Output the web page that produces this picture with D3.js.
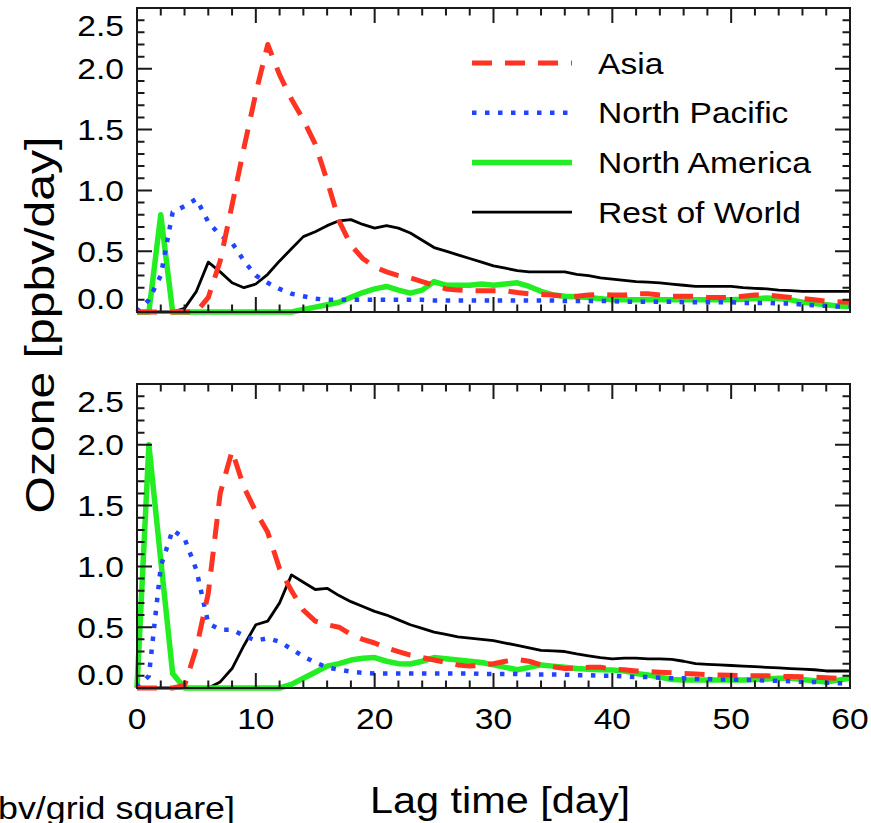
<!DOCTYPE html>
<html>
<head>
<meta charset="utf-8">
<script src="https://cdn.jsdelivr.net/npm/d3@7"></script>
<style>
  body { margin: 0; background: #fff; }
  text { font-family: "Liberation Sans", Arial, Helvetica, sans-serif; fill: #000; }
</style>
</head>
<body>
<svg id="chart"></svg>
<script>
// lag time in days, one value per day
const days = d3.range(0, 61);
const seriesNames = ["Asia", "North Pacific", "North America", "Rest of World"];
const yTickValues = [0, 0.5, 1.0, 1.5, 2.0, 2.5];
const xTickValues = [0, 10, 20, 30, 40, 50, 60];

// upper panel
const asiaTop = [0, 0, 0, 0, 0, 0, 0.12, 0.42, 0.88, 1.35, 1.8, 2.2, 1.95, 1.75, 1.58, 1.38, 1.08, 0.75, 0.55, 0.44,
  0.37, 0.33, 0.3, 0.28, 0.25, 0.22, 0.19, 0.18, 0.175, 0.175, 0.175, 0.175, 0.16, 0.15, 0.145, 0.14, 0.13, 0.13, 0.14, 0.145,
  0.14, 0.14, 0.15, 0.15, 0.14, 0.13, 0.13, 0.13, 0.12, 0.12, 0.12, 0.13, 0.14, 0.14, 0.13, 0.12, 0.11, 0.1, 0.09, 0.085, 0.08];
const pacificTop = [0, 0.1, 0.3, 0.82, 0.87, 0.93, 0.74, 0.63, 0.57, 0.42, 0.3, 0.24, 0.19, 0.15, 0.13, 0.11, 0.1, 0.1, 0.1, 0.1,
  0.1, 0.1, 0.1, 0.1, 0.1, 0.095, 0.095, 0.095, 0.095, 0.095, 0.095, 0.095, 0.095, 0.095, 0.095, 0.095, 0.09, 0.09, 0.09, 0.09,
  0.09, 0.085, 0.085, 0.085, 0.085, 0.085, 0.08, 0.08, 0.08, 0.08, 0.08, 0.075, 0.075, 0.075, 0.07, 0.07, 0.06, 0.055, 0.05, 0.045, 0.045];
const americaTop = [0, 0, 0.8, 0, 0, 0, 0, 0, 0, 0, 0, 0, 0, 0, 0.02, 0.04, 0.06, 0.08, 0.12, 0.16,
  0.19, 0.21, 0.18, 0.155, 0.18, 0.25, 0.22, 0.22, 0.22, 0.23, 0.22, 0.23, 0.24, 0.21, 0.17, 0.14, 0.13, 0.125, 0.12, 0.11,
  0.1, 0.1, 0.1, 0.1, 0.1, 0.1, 0.1, 0.1, 0.1, 0.1, 0.1, 0.105, 0.11, 0.115, 0.11, 0.1, 0.08, 0.07, 0.06, 0.05, 0.045];
const worldTop = [0, 0, 0, 0, 0.03, 0.17, 0.41, 0.33, 0.24, 0.2, 0.23, 0.31, 0.42, 0.52, 0.62, 0.66, 0.71, 0.75, 0.76, 0.72,
  0.69, 0.71, 0.69, 0.65, 0.59, 0.53, 0.5, 0.47, 0.44, 0.41, 0.38, 0.36, 0.34, 0.33, 0.33, 0.33, 0.33, 0.31, 0.3, 0.28,
  0.27, 0.26, 0.25, 0.245, 0.24, 0.23, 0.22, 0.21, 0.21, 0.21, 0.21, 0.2, 0.195, 0.19, 0.18, 0.175, 0.17, 0.17, 0.17, 0.17, 0.17];

// lower panel
const asiaBottom = [0, 0, 0, 0, 0.02, 0.33, 0.78, 1.6, 1.95, 1.65, 1.45, 1.28, 0.98, 0.8, 0.64, 0.55, 0.52, 0.5, 0.44, 0.4,
  0.37, 0.33, 0.3, 0.27, 0.25, 0.23, 0.21, 0.19, 0.18, 0.185, 0.2, 0.22, 0.235, 0.22, 0.19, 0.175, 0.16, 0.165, 0.17, 0.17,
  0.155, 0.15, 0.14, 0.135, 0.13, 0.125, 0.12, 0.115, 0.11, 0.107, 0.105, 0.1, 0.1, 0.1, 0.095, 0.095, 0.093, 0.09, 0.085, 0.08, 0.08];
const pacificBottom = [0, 0.1, 1.0, 1.3, 1.23, 0.97, 0.53, 0.48, 0.48, 0.43, 0.39, 0.41, 0.38, 0.32, 0.26, 0.21, 0.17, 0.15, 0.135, 0.125,
  0.12, 0.12, 0.12, 0.12, 0.12, 0.12, 0.12, 0.12, 0.12, 0.115, 0.115, 0.115, 0.115, 0.11, 0.11, 0.11, 0.11, 0.105, 0.105, 0.1,
  0.1, 0.095, 0.09, 0.09, 0.085, 0.08, 0.08, 0.075, 0.075, 0.07, 0.07, 0.065, 0.065, 0.06, 0.06, 0.055, 0.05, 0.05, 0.045, 0.04, 0.04];
const americaBottom = [0, 2.0, 1.05, 0.12, 0, 0, 0, 0, 0, 0, 0, 0, 0, 0.03, 0.08, 0.13, 0.18, 0.2, 0.23, 0.245,
  0.25, 0.22, 0.2, 0.197, 0.22, 0.25, 0.24, 0.23, 0.22, 0.21, 0.19, 0.17, 0.15, 0.17, 0.19, 0.18, 0.17, 0.16, 0.155, 0.15,
  0.148, 0.14, 0.12, 0.107, 0.09, 0.07, 0.066, 0.066, 0.066, 0.066, 0.066, 0.066, 0.07, 0.075, 0.08, 0.08, 0.07, 0.06, 0.05, 0.065, 0.08];
const worldBottom = [0, 0, 0, 0, 0, 0, 0, 0.05, 0.16, 0.35, 0.52, 0.55, 0.7, 0.93, 0.87, 0.81, 0.82, 0.76, 0.71, 0.67,
  0.63, 0.6, 0.56, 0.52, 0.49, 0.46, 0.44, 0.42, 0.41, 0.4, 0.39, 0.37, 0.35, 0.33, 0.31, 0.305, 0.3, 0.28, 0.265, 0.25,
  0.24, 0.245, 0.245, 0.24, 0.24, 0.235, 0.22, 0.2, 0.195, 0.19, 0.185, 0.18, 0.175, 0.17, 0.165, 0.16, 0.155, 0.15, 0.14, 0.14, 0.14];

const SIZE = { width: 871, height: 823 };
const PLOT = { left: 137, right: 850 };
const PANELS = [
  { top: 8, bottom: 312, series: [asiaTop, pacificTop, americaTop, worldTop], legend: true, labels: false },
  { top: 384, bottom: 688, series: [asiaBottom, pacificBottom, americaBottom, worldBottom], legend: false, labels: true },
];
// one style per series, same order as seriesNames
const STYLES = [
  { color: "#ff3322", width: 5, dash: "20,13" },
  { color: "#2244ff", width: 4.5, dash: "4.5,8.5" },
  { color: "#22ee22", width: 5.5, dash: null },
  { color: "#000000", width: 2.8, dash: null },
];
const drawOrder = [3, 2, 1, 0];
const SX = 1.12; // the figure's lettering is slightly stretched sideways
const MAJOR = 15, MINOR = 7.5;
const FRAME = { color: "#1a1a1a", width: 2 };

const svg = d3.select("svg#chart").attr("width", SIZE.width).attr("height", SIZE.height);
svg.append("rect").attr("width", SIZE.width).attr("height", SIZE.height).attr("fill", "#fff");

const x = d3.scaleLinear().domain([0, 60]).range([PLOT.left, PLOT.right]);
const xMinor = d3.range(0, 61, 2).filter(v => v % 10 !== 0);
const yMinor = d3.range(0, 26).map(v => v / 10).filter(v => Math.round(v * 10) % 5 !== 0);

PANELS.forEach(panel => {
  const y = d3.scaleLinear().domain([0, 2.5]).range([panel.bottom, panel.top]);
  const g = svg.append("g");
  const line = d3.line().x((d, i) => x(days[i])).y(d => y(d));

  drawOrder.forEach(k => {
    g.append("path")
      .datum(panel.series[k])
      .attr("d", line)
      .attr("fill", "none")
      .attr("stroke", STYLES[k].color)
      .attr("stroke-width", STYLES[k].width)
      .attr("stroke-dasharray", STYLES[k].dash)
      .attr("stroke-linejoin", "round");
  });

  // frame plus inward ticks on all four sides, IDL style, as one path
  const xt = xTickValues.map(v => [v, MAJOR]).concat(xMinor.map(v => [v, MINOR]));
  const yt = yTickValues.map(v => [v, MAJOR]).concat(yMinor.map(v => [v, MINOR]));
  let d = `M${PLOT.left},${panel.top}H${PLOT.right}V${panel.bottom}H${PLOT.left}Z`;
  xt.forEach(([v, len]) => {
    d += `M${x(v)},${panel.bottom}v${-len}M${x(v)},${panel.top}v${len}`;
  });
  yt.forEach(([v, len]) => {
    d += `M${PLOT.left},${y(v)}h${len}M${PLOT.right},${y(v)}h${-len}`;
  });
  g.append("path")
    .attr("d", d)
    .attr("fill", "none")
    .attr("stroke", FRAME.color)
    .attr("stroke-width", FRAME.width);

  // y tick labels; end labels are nudged inside the frame
  g.selectAll(".ylab").data(yTickValues).enter().append("text")
    .attr("class", "ylab")
    .attr("transform", v => {
      const yy = Math.min(Math.max(y(v), panel.top + 17), panel.bottom - 14);
      return `translate(124,${yy}) scale(${SX},1)`;
    })
    .attr("text-anchor", "end")
    .attr("dy", "0.35em")
    .attr("font-size", 30)
    .text(v => v.toFixed(1));

  if (panel.labels) {
    g.selectAll(".xlab").data(xTickValues).enter().append("text")
      .attr("class", "xlab")
      .attr("transform", v => `translate(${x(v)},${panel.bottom + 30}) scale(${SX},1)`)
      .attr("text-anchor", "middle")
      .attr("dy", "0.35em")
      .attr("font-size", 30)
      .text(v => v);
  }

  if (panel.legend) {
    const lg = g.append("g");
    seriesNames.forEach((name, k) => {
      const yy = 63 + k * 49.7;
      lg.append("line")
        .attr("x1", 472).attr("x2", 572).attr("y1", yy).attr("y2", yy)
        .attr("stroke", STYLES[k].color)
        .attr("stroke-width", STYLES[k].width)
        .attr("stroke-dasharray", STYLES[k].dash);
      lg.append("text")
        .attr("transform", `translate(598,${yy}) scale(${SX},1)`)
        .attr("dy", "0.35em")
        .attr("font-size", 30)
        .text(name);
    });
  }
});

// axis titles
svg.append("text")
  .attr("transform", `translate(500,800) scale(${SX},1)`)
  .attr("text-anchor", "middle")
  .attr("dy", "0.35em")
  .attr("font-size", 37)
  .text("Lag time [day]");
svg.append("text")
  .attr("transform", "translate(40,325) rotate(-90) scale(1.3,1.1)")
  .attr("text-anchor", "middle")
  .attr("dy", "0.35em")
  .attr("font-size", 37)
  .text("Ozone [ppbv/day]");
// label of the neighbouring panel, cut off by the left edge
svg.append("text")
  .attr("transform", `translate(235,808) scale(${SX},1)`)
  .attr("text-anchor", "end")
  .attr("dy", "0.35em")
  .attr("font-size", 32)
  .text("[ppbv/grid square]");
</script>
</body>
</html>
